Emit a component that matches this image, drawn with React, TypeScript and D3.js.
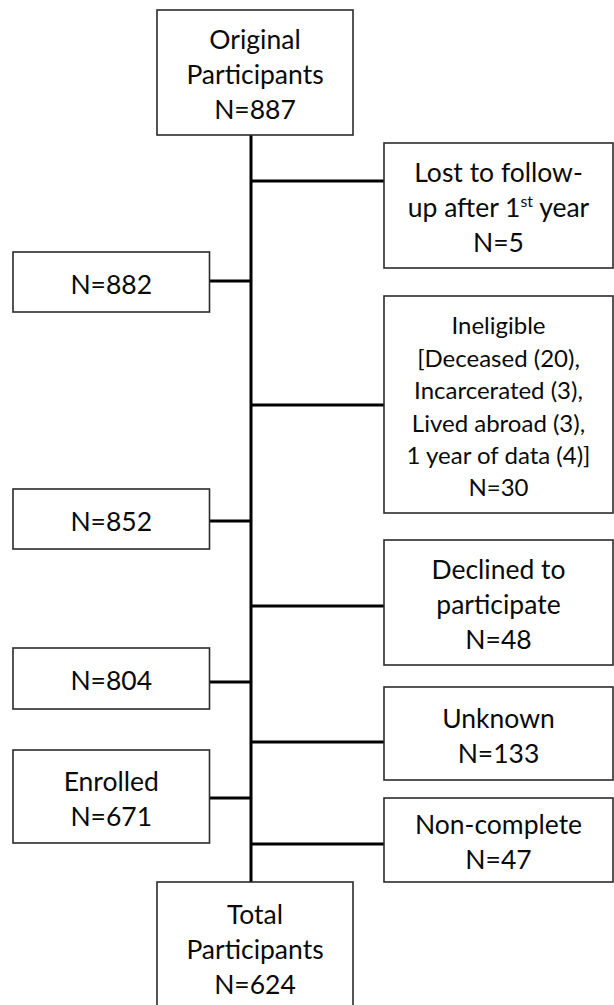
import React, { useEffect, useRef } from "react";
import * as d3 from "d3";

// flow data
const startLines = ["Original", "Participants", "N=887"];
const endLines = ["Total", "Participants", "N=624"];
const remainingLabels = ["", "", "", "Enrolled"];
const remainingCounts = [882, 852, 804, 671];
const exclusionLabels = [
  ["Lost to follow-", "up after 1^st year"],
  ["Ineligible", "[Deceased (20),", "Incarcerated (3),", "Lived abroad (3),", "1 year of data (4)]"],
  ["Declined to", "participate"],
  ["Unknown"],
  ["Non-complete"],
];
const exclusionCounts = [5, 30, 48, 133, 47];

// layout (pixel rows of each box: top, bottom, connector)
const exclusionRows = [
  [143, 268, 181],
  [296, 513, 405],
  [540, 665, 606],
  [687, 780, 742],
  [798, 882, 844],
];
const remainingRows = [
  [252, 312, 281],
  [489, 549, 521],
  [648, 709, 682],
  [750, 843, 798],
];

export default function App() {
  const ref = useRef<SVGSVGElement>(null);

  useEffect(() => {
    const svg = d3.select(ref.current);
    svg.selectAll("*").remove();

    const spineX = 251;
    const mid = { x0: 157, x1: 353 };
    const left = { x0: 13, x1: 209.5 };
    const right = { x0: 384, x1: 613 };

    const g = svg.append("g");

    const drawBox = (x0: number, x1: number, y0: number, y1: number, lines: string[], fs: number, lh: number) => {
      g.append("rect")
        .attr("x", x0).attr("y", y0)
        .attr("width", x1 - x0).attr("height", y1 - y0)
        .attr("fill", "#fff")
        .attr("stroke", "#2b2b2b")
        .attr("stroke-width", 1.6);
      const cx = (x0 + x1) / 2;
      const cy = (y0 + y1) / 2;
      lines.forEach((ln, i) => {
        const t = g.append("text")
          .attr("x", cx)
          .attr("y", cy + (i - (lines.length - 1) / 2) * lh + fs * 0.45)
          .attr("text-anchor", "middle")
          .style("font-family", "Lato, 'Noto Sans', sans-serif")
          .style("font-size", fs + "px")
          .attr("fill", "#0a0a0a");
        if (ln.includes("^")) {
          // superscript ordinal, e.g. 1st
          const [a, rest] = ln.split("^");
          t.append("tspan").text(a);
          t.append("tspan").attr("dy", -fs * 0.38).style("font-size", fs * 0.6 + "px").text(rest.slice(0, 2));
          t.append("tspan").attr("dy", fs * 0.38).text(rest.slice(2));
        } else {
          t.text(ln);
        }
      });
    };

    // spine
    g.append("line")
      .attr("x1", spineX).attr("x2", spineX)
      .attr("y1", 135).attr("y2", 882)
      .attr("stroke", "#000").attr("stroke-width", 3);

    // connectors
    exclusionRows.forEach(r => {
      g.append("line")
        .attr("x1", spineX).attr("x2", right.x0)
        .attr("y1", r[2]).attr("y2", r[2])
        .attr("stroke", "#000").attr("stroke-width", 3);
    });
    remainingRows.forEach(r => {
      g.append("line")
        .attr("x1", left.x1).attr("x2", spineX)
        .attr("y1", r[2]).attr("y2", r[2])
        .attr("stroke", "#000").attr("stroke-width", 3);
    });

    drawBox(mid.x0, mid.x1, 10, 135, startLines, 26.5, 35);
    drawBox(mid.x0, mid.x1, 882, 1012, endLines, 26.5, 35);

    exclusionRows.forEach((r, i) => {
      const lines = [...exclusionLabels[i], "N=" + exclusionCounts[i]];
      const small = lines.length > 4;
      drawBox(right.x0, right.x1, r[0], r[1], lines, small ? 24 : 26.5, small ? 32.4 : 35);
    });
    remainingRows.forEach((r, i) => {
      const lines = remainingLabels[i] ? [remainingLabels[i], "N=" + remainingCounts[i]] : ["N=" + remainingCounts[i]];
      drawBox(left.x0, left.x1, r[0], r[1], lines, 26.5, 35);
    });
  }, []);

  return (
    <svg
      ref={ref}
      width={614}
      height={1005}
      style={{ position: "absolute", left: 0, top: 0, background: "#fff" }}
    />
  );
}
